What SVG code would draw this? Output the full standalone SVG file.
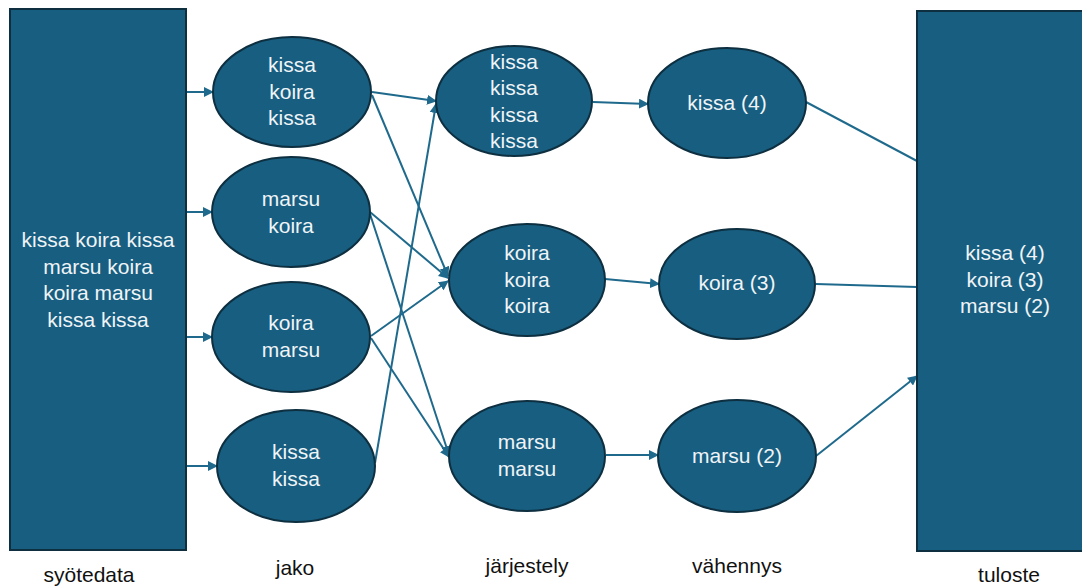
<svg xmlns="http://www.w3.org/2000/svg" width="1082" height="587" viewBox="0 0 1082 587">
<style>
.box{fill:#175e80;stroke:#0d2f40;stroke-width:2}
.node{fill:#175e80;stroke:#0d2f40;stroke-width:2}
.t{font-family:"Liberation Sans",Arial,sans-serif;font-size:21px;fill:#f0f4f7;text-anchor:middle}
.lbl{font-family:"Liberation Sans",Arial,sans-serif;font-size:21px;fill:#111;text-anchor:middle}
.c{stroke:#1f6a8c;stroke-width:2;fill:none}
.a{marker-end:url(#arr)}
</style>
<defs>
<marker id="arr" viewBox="0 0 10 10" refX="9" refY="5" markerWidth="5" markerHeight="5" orient="auto" markerUnits="strokeWidth">
<path d="M0,0 L10,5 L0,10 z" fill="#1f6a8c"/>
</marker>
</defs>
<g id="connectors">
<line class="c a" x1="186" y1="92" x2="213" y2="92"/>
<line class="c a" x1="186" y1="212" x2="212" y2="212"/>
<line class="c a" x1="186" y1="337" x2="212" y2="337"/>
<line class="c a" x1="186" y1="466" x2="217" y2="466"/>
<line class="c a" x1="372" y1="92" x2="436" y2="101"/>
<line class="c a" x1="372" y1="95" x2="448" y2="276"/>
<line class="c a" x1="370" y1="212" x2="448" y2="278"/>
<line class="c a" x1="370" y1="214" x2="449" y2="455"/>
<line class="c a" x1="371" y1="336" x2="448" y2="281"/>
<line class="c a" x1="371" y1="338" x2="449" y2="457"/>
<line class="c a" x1="375" y1="463" x2="436" y2="104"/>
<line class="c a" x1="593" y1="102" x2="648" y2="104"/>
<line class="c a" x1="605" y1="279" x2="659" y2="284"/>
<line class="c a" x1="606" y1="455" x2="658" y2="455"/>
<line class="c" x1="806" y1="102" x2="917" y2="161"/>
<line class="c" x1="816" y1="284" x2="917" y2="287"/>
<line class="c a" x1="816" y1="456" x2="917" y2="376"/>
</g>
<g id="syotedata">
<rect class="box" x="10" y="9" width="176" height="541"/>
<text class="t" x="98" y="247">kissa koira kissa</text>
<text class="t" x="98" y="273.5">marsu koira</text>
<text class="t" x="98" y="300">koira marsu</text>
<text class="t" x="98" y="326.5">kissa kissa</text>
</g>
<g id="jako1">
<ellipse class="node" cx="292" cy="92" rx="79" ry="55"/>
<text class="t" x="292" y="72">kissa</text>
<text class="t" x="292" y="99">koira</text>
<text class="t" x="292" y="125">kissa</text>
</g>
<g id="jako2">
<ellipse class="node" cx="291" cy="212" rx="79" ry="55"/>
<text class="t" x="291" y="206">marsu</text>
<text class="t" x="291" y="233">koira</text>
</g>
<g id="jako3">
<ellipse class="node" cx="291" cy="337" rx="79" ry="55"/>
<text class="t" x="291" y="330">koira</text>
<text class="t" x="291" y="357">marsu</text>
</g>
<g id="jako4">
<ellipse class="node" cx="296" cy="466" rx="79" ry="56"/>
<text class="t" x="296" y="459">kissa</text>
<text class="t" x="296" y="486">kissa</text>
</g>
<g id="jarj1">
<ellipse class="node" cx="514" cy="101" rx="78" ry="55"/>
<text class="t" x="514" y="68.5">kissa</text>
<text class="t" x="514" y="95">kissa</text>
<text class="t" x="514" y="121.5">kissa</text>
<text class="t" x="514" y="148">kissa</text>
</g>
<g id="jarj2">
<ellipse class="node" cx="527" cy="280" rx="78" ry="56"/>
<text class="t" x="527" y="260">koira</text>
<text class="t" x="527" y="287">koira</text>
<text class="t" x="527" y="313">koira</text>
</g>
<g id="jarj3">
<ellipse class="node" cx="527" cy="456" rx="78" ry="55"/>
<text class="t" x="527" y="449">marsu</text>
<text class="t" x="527" y="476">marsu</text>
</g>
<g id="vah1">
<ellipse class="node" cx="727" cy="103" rx="79" ry="55"/>
<text class="t" x="727" y="110">kissa (4)</text>
</g>
<g id="vah2">
<ellipse class="node" cx="737" cy="284" rx="78" ry="55"/>
<text class="t" x="737" y="290">koira (3)</text>
</g>
<g id="vah3">
<ellipse class="node" cx="737" cy="456" rx="79" ry="56"/>
<text class="t" x="737" y="463">marsu (2)</text>
</g>
<g id="tuloste">
<rect class="box" x="917" y="11" width="170" height="540"/>
<text class="t" x="1005" y="260">kissa (4)</text>
<text class="t" x="1005" y="286.5">koira (3)</text>
<text class="t" x="1005" y="313">marsu (2)</text>
</g>
<g id="labels">
<text class="lbl" x="89" y="582">syötedata</text>
<text class="lbl" x="295" y="575">jako</text>
<text class="lbl" x="527" y="573">järjestely</text>
<text class="lbl" x="737" y="573">vähennys</text>
<text class="lbl" x="1009" y="582">tuloste</text>
</g>
</svg>
